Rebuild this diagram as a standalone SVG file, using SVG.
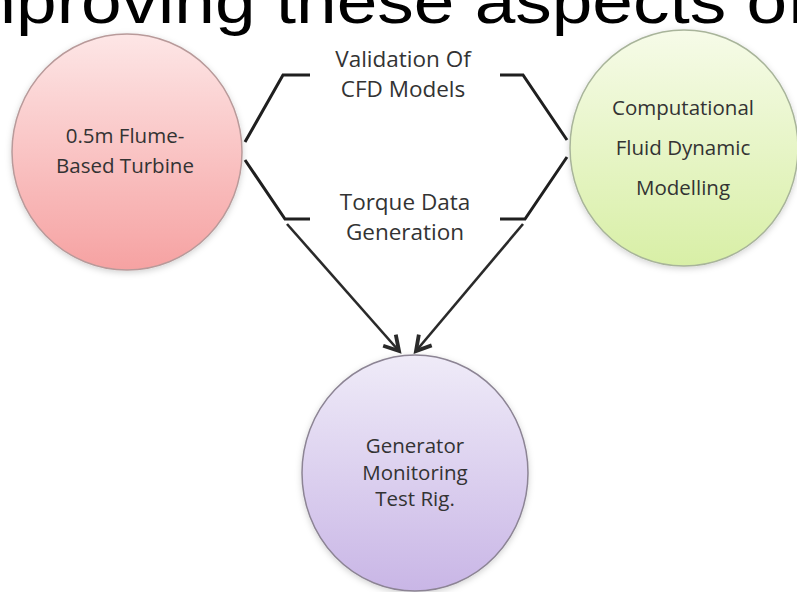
<svg xmlns="http://www.w3.org/2000/svg" width="797" height="592" viewBox="0 0 797 592">
<defs>
<style>
.node{font-family:"Open Sans","Liberation Sans",sans-serif;font-size:20.5px;fill:#333;text-anchor:middle}
.lbl{font-family:"Open Sans","Liberation Sans",sans-serif;font-size:22.5px;fill:#333;text-anchor:middle}
.con{fill:none;stroke:#1f1f1f;stroke-width:3;stroke-linejoin:miter}
.arr{fill:none;stroke:#2a2a2a;stroke-width:2.6}
.head{font-family:"Liberation Sans",Arial,sans-serif;font-size:73px;fill:#000}
</style>
<linearGradient id="gPink" x1="0" y1="0" x2="0" y2="1">
<stop offset="0" stop-color="#fde6e6"/><stop offset="1" stop-color="#f6a2a2"/>
</linearGradient>
<linearGradient id="gGreen" x1="0" y1="0" x2="0" y2="1">
<stop offset="0" stop-color="#f6fbe8"/><stop offset="1" stop-color="#d8efa6"/>
</linearGradient>
<linearGradient id="gPurple" x1="0" y1="0" x2="0" y2="1">
<stop offset="0" stop-color="#efebf8"/><stop offset="1" stop-color="#c9b6e6"/>
</linearGradient>
<filter id="sh" x="-20%" y="-20%" width="140%" height="140%">
<feDropShadow dx="0" dy="2" stdDeviation="3" flood-color="#000" flood-opacity="0.18"/>
</filter>
<marker id="ah" markerUnits="userSpaceOnUse" markerWidth="24" markerHeight="24" viewBox="-14 -10 16 20" refX="0" refY="0" orient="auto">
<path d="M-12,-7 L0,0 L-12,7" fill="none" stroke="#2a2a2a" stroke-width="3.2" stroke-linejoin="miter"/>
</marker>
</defs>
<rect width="797" height="592" fill="#fff"/>
<text class="head" x="-65" y="0" transform="translate(0,23) scale(1,0.86)">Improving these aspects of</text>

<g id="connectors">
<path class="con" d="M310,75 L283,75 L245,142"/>
<path class="con" d="M245,160 L285,219 L310,219"/>
<path class="con" d="M500,75 L523,75 L567,140"/>
<path class="con" d="M567,157 L525,219 L500,219"/>
<path class="arr" d="M287,224 L399,351" marker-end="url(#ah)"/>
<path class="arr" d="M523,224 L416,351" marker-end="url(#ah)"/>
<text class="lbl" x="403" y="67">Validation Of</text>
<text class="lbl" x="403" y="97">CFD Models</text>
<text class="lbl" x="405" y="210">Torque Data</text>
<text class="lbl" x="405" y="240">Generation</text>
</g>

<g id="turbine">
<ellipse cx="127" cy="152" rx="115" ry="118" fill="url(#gPink)" stroke="#b89a9a" stroke-width="1.5" filter="url(#sh)"/>
<text class="node" x="125" y="143">0.5m Flume-</text>
<text class="node" x="125" y="173">Based Turbine</text>
</g>

<g id="cfd">
<ellipse cx="684" cy="148" rx="114" ry="118" fill="url(#gGreen)" stroke="#a8b49a" stroke-width="1.5" filter="url(#sh)"/>
<text class="node" x="683" y="115">Computational</text>
<text class="node" x="683" y="155">Fluid Dynamic</text>
<text class="node" x="683" y="195">Modelling</text>
</g>

<g id="rig">
<ellipse cx="415" cy="473" rx="113" ry="118" fill="url(#gPurple)" stroke="#8c8494" stroke-width="1.5" filter="url(#sh)"/>
<text class="node" x="415" y="453">Generator</text>
<text class="node" x="415" y="480">Monitoring</text>
<text class="node" x="415" y="506">Test Rig.</text>
</g>
</svg>
